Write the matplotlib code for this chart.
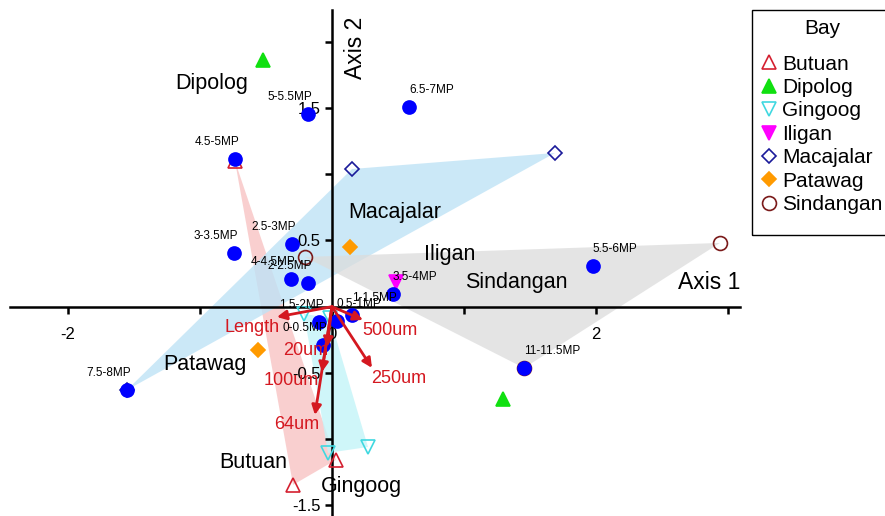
import matplotlib.pyplot as plt
from matplotlib.lines import Line2D
from matplotlib.patches import Rectangle

plt.rcParams['font.family'] = ['Liberation Sans', 'DejaVu Sans']

# sample scores of each bay on axis 1 / axis 2
butuan_x = [-0.735, 0.03, -0.295]
butuan_y = [1.10, -1.157, -1.345]
dipolog_x = [-0.523, 1.295]
dipolog_y = [1.862, -0.696]
gingoog_x = [-0.212, -0.015, 0.273, -0.03]
gingoog_y = [-0.055, -0.085, -1.059, -1.104]
iligan_x = [0.485]
iligan_y = [0.186]
macajalar_x = [0.152, 1.689, -1.553]
macajalar_y = [1.039, 1.16, -0.629]
patawag_x = [0.136, -0.56]
patawag_y = [0.451, -0.327]
sindangan_x = [-0.205, 2.939, 1.455]
sindangan_y = [0.375, 0.481, -0.463]

# microplastic size classes
mp_names = ['0-0.5MP', '0.5-1MP', '1-1.5MP', '1.5-2MP', '2-2.5MP', '2.5-3MP',
            '3-3.5MP', '3.5-4MP', '4-4.5MP', '4.5-5MP', '5-5.5MP', '5.5-6MP',
            '6.5-7MP', '7.5-8MP', '11-11.5MP']
mp_x = [-0.068, 0.038, 0.152, -0.098, -0.182, -0.303,
        -0.742, 0.462, -0.31, -0.735, -0.182, 1.977,
        0.583, -1.553, 1.455]
mp_y = [-0.289, -0.108, -0.063, -0.115, 0.179, 0.473,
        0.405, 0.096, 0.209, 1.115, 1.454, 0.307,
        1.507, -0.629, -0.463]
mp_right = {'0.5-1MP', '1-1.5MP', '3.5-4MP', '5.5-6MP', '6.5-7MP', '11-11.5MP'}

# grain size vectors
vec_names = ['Length', '500um', '250um', '20um', '100um', '64um']
vec_x = [-0.417, 0.235, 0.303, -0.038, -0.076, -0.129]
vec_y = [-0.078, -0.10, -0.462, -0.304, -0.493, -0.817]

fig = plt.figure(figsize=(8.85, 5.16), dpi=100)
ax = fig.add_axes([10 / 885, 0, 730 / 885, 506 / 516])
ax.set_xlim(-2.439, 3.091)
ax.set_ylim(-1.580, 2.239)

bays = [
    ('Butuan', butuan_x, butuan_y, '^', 'none', '#d42030', '#f8c4c4'),
    ('Dipolog', dipolog_x, dipolog_y, '^', '#10e010', '#10e010', None),
    ('Gingoog', gingoog_x, gingoog_y, 'v', 'none', '#40d8e0', '#c4f4f8'),
    ('Iligan', iligan_x, iligan_y, 'v', '#ff00ff', '#ff00ff', None),
    ('Macajalar', macajalar_x, macajalar_y, 'D', 'none', '#1a1a9a', '#bfe3f6'),
    ('Patawag', patawag_x, patawag_y, 'D', '#ff9a00', '#ff9a00', None),
    ('Sindangan', sindangan_x, sindangan_y, 'o', 'none', '#7a1a1a', '#dcdcdc'),
]
msize = {'^': 10, 'v': 10, 'D': 7, 'o': 10}

# group hulls
for name, xs, ys, m, fc, ec, hull in bays:
    if hull and len(xs) > 2:
        a = 0.75 if name == 'Sindangan' else 0.8
        ax.fill(xs, ys, color=hull, alpha=a, lw=0, zorder=1)

# axes through the origin
for s in ['top', 'right']:
    ax.spines[s].set_visible(False)
for s in ['left', 'bottom']:
    ax.spines[s].set_position(('data', 0))
    ax.spines[s].set_linewidth(1.8)
    ax.spines[s].set_zorder(2)
ax.set_xticks([-2, -1, 0, 1, 2, 3])
ax.set_xticklabels(['-2', '', '0', '', '2', ''])
ax.set_yticks([-1.5, -1, -0.5, 0.5, 1, 1.5, 2])
ax.set_yticklabels(['-1.5', '', '-0.5', '0.5', '', '1.5', ''])
ax.tick_params(axis='both', direction='out', length=5, width=1.8, labelsize=12)
ax.tick_params(axis='x', pad=10)
ax.tick_params(axis='y', pad=3)

for name, xs, ys, m, fc, ec, hull in bays:
    ax.plot(xs, ys, ls='none', marker=m, ms=msize[m], mfc=fc, mec=ec, mew=1.2, zorder=3)

ax.scatter(mp_x, mp_y, s=112, color='#0000ff', zorder=4, lw=0)
for n, x, y in zip(mp_names, mp_x, mp_y):
    if n in mp_right:
        ax.annotate(n, (x, y), xytext=(0, 12), textcoords='offset points',
                    ha='left', va='center', fontsize=8.5, zorder=6)
    else:
        ax.annotate(n, (x, y), xytext=(3, 12), textcoords='offset points',
                    ha='right', va='center', fontsize=8.5, zorder=6)

# environmental arrows
red = '#d41820'
for x, y in zip(vec_x, vec_y):
    ax.annotate('', xy=(x, y), xytext=(0, 0), zorder=5,
                arrowprops=dict(arrowstyle='-|>', color=red, lw=2,
                                mutation_scale=14, shrinkA=0, shrinkB=0))
vec_text = {'Length': (-0.605, -0.16), '500um': (0.44, -0.18), '250um': (0.505, -0.54),
            '20um': (-0.2, -0.33), '100um': (-0.305, -0.555), '64um': (-0.265, -0.89)}
for n in vec_names:
    tx, ty = vec_text[n]
    ax.text(tx, ty, n, color=red, fontsize=13, ha='center', va='center', zorder=6)

# bay names
bay_text = {'Dipolog': (-0.909, 1.685), 'Macajalar': (0.477, 0.707),
            'Iligan': (0.894, 0.39), 'Sindangan': (1.40, 0.179),
            'Patawag': (-0.962, -0.44), 'Butuan': (-0.598, -1.175),
            'Gingoog': (0.227, -1.36)}
for n, (tx, ty) in bay_text.items():
    ax.text(tx, ty, n, fontsize=15.5, ha='center', va='center', zorder=6)

ax.text(0.18, 1.95, 'Axis 2', fontsize=16.5, rotation=90, ha='center', va='center')
ax.text(2.86, 0.18, 'Axis 1', fontsize=16.5, ha='center', va='center')

handles = [Line2D([], [], ls='none', marker=m, ms=msize[m],
                  mfc=fc, mec=ec, mew=1.2, label=name)
           for name, xs, ys, m, fc, ec, hull in bays]
leg = fig.legend(handles=handles, title='Bay', loc='upper left',
                 bbox_to_anchor=(752 / 885, 1 - 9 / 516), fontsize=15,
                 title_fontsize=15, frameon=False,
                 handlelength=0.6, handletextpad=0.35, labelspacing=0.21,
                 borderpad=0.5, borderaxespad=0)
leg._legend_box.sep = 0.21 * 15 + 8.6
fig.patches.append(Rectangle((752 / 885, 1 - 235 / 516), 200 / 885, 225 / 516,
                             transform=fig.transFigure, fill=False,
                             edgecolor='black', lw=1))

fig.savefig('out.png', dpi=100)
